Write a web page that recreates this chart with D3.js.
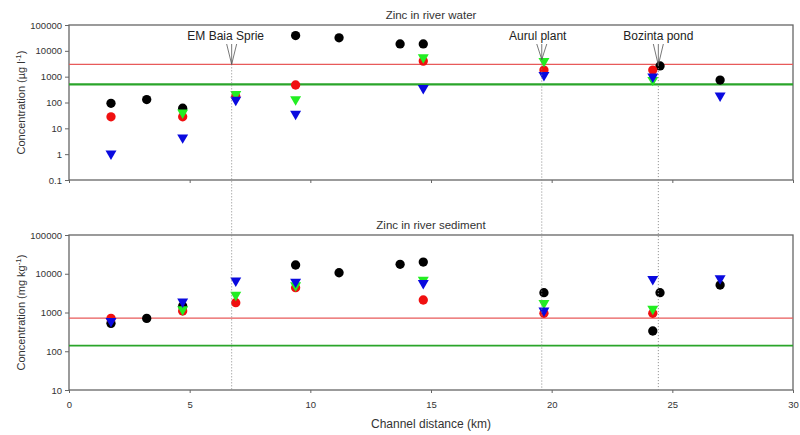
<!DOCTYPE html>
<html>
<head>
<meta charset="utf-8">
<script src="https://cdn.jsdelivr.net/npm/d3@7"></script>
<style>
  body { margin: 0; background: #fff; }
  svg { font-family: Arial, "Liberation Sans", sans-serif; }
  .tick text { fill: #333; font-size: 9.5px; }
  .tick line, .domain { stroke: #666; }
</style>
</head>
<body>
<div id="chart"></div>
<script>
// station positions along the channel (km)
var stations = [1.74, 3.22, 4.71, 6.91, 9.39, 11.19, 13.72, 14.68, 19.68, 24.19, 24.49, 26.98];

// zinc in river water (µg/l), null = no sample
var waterBlack = [93, 130, 60, null, 39000, 32000, 18500, 18500, null, null, 2600, 740];
var waterRed   = [28, null, 28, 170, 475, null, null, 4000, 1800, 1800, null, null];
var waterGreen = [null, null, 40, 210, 132, null, null, 5600, 4000, 740, null, null];
var waterBlue  = [1.05, null, 4.4, 125, 36, null, null, 355, 1150, 1000, null, 183];

// zinc in river sediment (mg/kg)
var sedBlack = [525, 705, 1460, null, 16800, 10600, 17500, 20000, 3250, 333, 3250, 5100];
var sedRed   = [705, null, 1090, 1790, 4370, null, null, 2100, 955, 955, null, null];
var sedGreen = [null, null, 1200, 2830, 5000, null, null, 6900, 1730, 1230, null, null];
var sedBlue  = [600, null, 1900, 6600, 6200, null, null, 5700, 1120, 7200, null, 7600];

// guideline values (red = upper limit, green = target)
var waterLimits = [3000, 500];
var sedLimits = [720, 140];

// pollution sources
var siteNames = ["EM Baia Sprie", "Aurul plant", "Bozinta pond"];
var siteKm = [6.74, 19.59, 24.42];
var siteApex = [3000, 4600, 2800];

var xTicks = [0, 5, 10, 15, 20, 25, 30];
var waterTicks = [0.1, 1, 10, 100, 1000, 10000, 100000];
var sedTicks = [10, 100, 1000, 10000, 100000];

var svgWidth = 800, svgHeight = 435;
var margin = { left: 69, right: 7 };
var width = svgWidth - margin.left - margin.right;

var svg = d3.select("#chart").append("svg")
  .attr("width", svgWidth)
  .attr("height", svgHeight);

var x = d3.scaleLinear().domain([0, 30]).range([margin.left, margin.left + width]);

var colors = { black: "#000", red: "#f01010", green: "#22ee22", blue: "#0a0adf" };

function fmt(d) { return d >= 1 ? d3.format("d")(d) : String(d); }

function panel(top, height, domain, ticks, series, limits, title, ylabel, showX) {
  var y = d3.scaleLog().domain(domain).range([top + height, top]);

  // frame
  svg.append("rect")
    .attr("x", margin.left).attr("y", top)
    .attr("width", width).attr("height", height)
    .attr("fill", "none").attr("stroke", "#666").attr("stroke-width", 1.3);

  svg.append("g")
    .attr("transform", `translate(${margin.left},0)`)
    .call(d3.axisLeft(y).tickValues(ticks).tickFormat(fmt).tickSize(4).tickPadding(3))
    .call(g => g.select(".domain").remove());

  svg.append("g")
    .attr("transform", `translate(0,${top + height})`)
    .call(d3.axisBottom(x).tickValues(xTicks).tickSize(3).tickPadding(8)
      .tickFormat(showX ? d3.format("d") : ""))
    .call(g => g.select(".domain").remove());

  // guideline lines
  svg.append("line")
    .attr("x1", margin.left).attr("x2", margin.left + width)
    .attr("y1", y(limits[0])).attr("y2", y(limits[0]))
    .attr("stroke", "#e85a5a").attr("stroke-width", 1.3);
  svg.append("line")
    .attr("x1", margin.left).attr("x2", margin.left + width)
    .attr("y1", y(limits[1])).attr("y2", y(limits[1]))
    .attr("stroke", "#2aa52a").attr("stroke-width", showX ? 1.6 : 2.2);

  // points
  series.forEach(function(s) {
    var pts = stations.map((km, i) => ({ km: km, v: s.values[i] })).filter(d => d.v != null);
    var sym = s.shape === "circle"
      ? d3.symbol().type(d3.symbolCircle).size(68)
      : d3.symbol().type(d3.symbolTriangle).size(52);
    svg.append("g").selectAll("path")
      .data(pts).enter().append("path")
      .attr("d", sym)
      .attr("transform", d => `translate(${x(d.km)},${y(d.v)})` + (s.shape === "circle" ? "" : " rotate(180)"))
      .attr("fill", s.color);
  });

  svg.append("text")
    .attr("x", margin.left + width / 2).attr("y", top - 6)
    .attr("text-anchor", "middle").attr("font-size", 11.5).attr("fill", "#333")
    .text(title);

  svg.append("text")
    .attr("transform", `translate(25,${top + height / 2}) rotate(-90)`)
    .attr("text-anchor", "middle").attr("font-size", 11).attr("fill", "#333")
    .html(ylabel);

  return y;
}

var yWater = panel(25, 155, [0.1, 100000], waterTicks, [
  { values: waterBlack, color: colors.black, shape: "circle" },
  { values: waterRed, color: colors.red, shape: "circle" },
  { values: waterGreen, color: colors.green, shape: "tri" },
  { values: waterBlue, color: colors.blue, shape: "tri" }
], waterLimits, "Zinc in river water",
  'Concentration (µg l<tspan dy="-4" font-size="8">-1</tspan><tspan dy="4">)</tspan>', false);

var ySed = panel(235, 155, [10, 100000], sedTicks, [
  { values: sedBlack, color: colors.black, shape: "circle" },
  { values: sedRed, color: colors.red, shape: "circle" },
  { values: sedGreen, color: colors.green, shape: "tri" },
  { values: sedBlue, color: colors.blue, shape: "tri" }
], sedLimits, "Zinc in river sediment",
  'Concentration (mg kg<tspan dy="-4" font-size="8">-1</tspan><tspan dy="4">)</tspan>', true);

svg.append("text")
  .attr("x", margin.left + width / 2).attr("y", 428)
  .attr("text-anchor", "middle").attr("font-size", 12).attr("fill", "#333")
  .text("Channel distance (km)");

// source markers: dotted drop lines and fan arrows
var labelDx = [-6, -4, 0];
siteNames.forEach(function(name, i) {
  var lx = x(siteKm[i]);
  var ay = yWater(siteApex[i]);
  svg.append("line")
    .attr("x1", lx).attr("x2", lx)
    .attr("y1", ay).attr("y2", ySed(10))
    .attr("stroke", "#888").attr("stroke-width", 1)
    .attr("stroke-dasharray", "1,2");
  [-5, 0, 5].forEach(function(o) {
    svg.append("line")
      .attr("x1", lx + o).attr("y1", 44)
      .attr("x2", lx).attr("y2", ay)
      .attr("stroke", "#555").attr("stroke-width", 0.8);
  });
  svg.append("text")
    .attr("x", lx + labelDx[i]).attr("y", 40)
    .attr("text-anchor", "middle").attr("font-size", 12).attr("fill", "#222")
    .text(name);
});
</script>
</body>
</html>
